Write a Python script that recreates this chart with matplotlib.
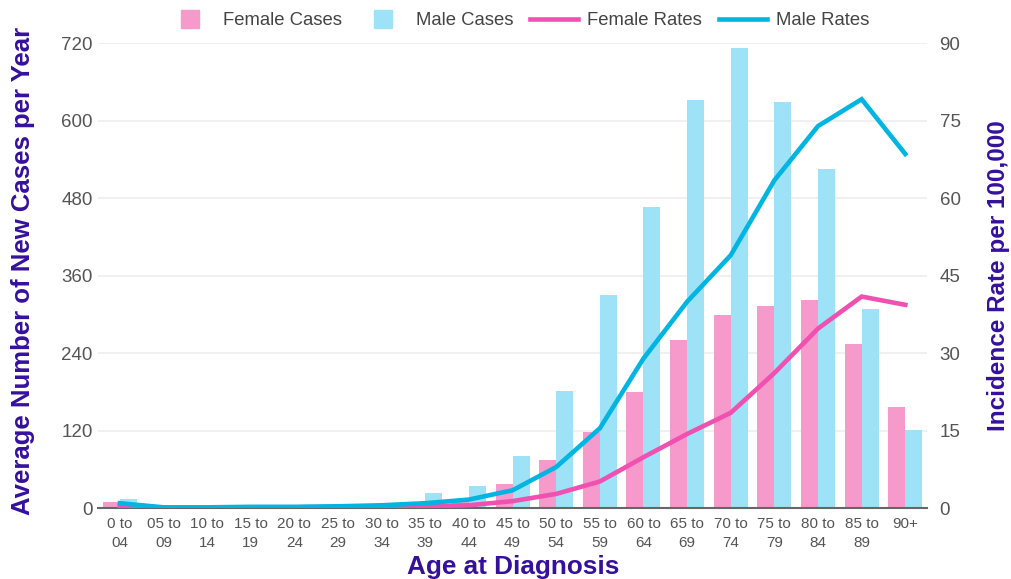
import numpy as np
import matplotlib.pyplot as plt
from matplotlib.lines import Line2D

# age groups (x axis)
ages = ["0 to\n04", "05 to\n09", "10 to\n14", "15 to\n19", "20 to\n24", "25 to\n29",
        "30 to\n34", "35 to\n39", "40 to\n44", "45 to\n49", "50 to\n54", "55 to\n59",
        "60 to\n64", "65 to\n69", "70 to\n74", "75 to\n79", "80 to\n84", "85 to\n89", "90+"]

# average new cases per year
female_cases = [10, 1, 1, 1, 2, 2, 4, 7, 15, 37, 75, 118, 180, 261, 299, 314, 322, 255, 157]
male_cases = [14, 2, 1, 2, 3, 4, 8, 24, 34, 81, 182, 330, 466, 633, 713, 630, 525, 309, 121]

# incidence rate per 100,000
female_rates = [0.4, 0.1, 0.1, 0.1, 0.2, 0.3, 0.3, 0.4, 0.6, 1.4, 2.8, 5.2, 9.9, 14.4, 18.5, 26.2, 34.8, 41.0, 39.4]
male_rates = [1.0, 0.2, 0.2, 0.3, 0.3, 0.4, 0.6, 1.0, 1.7, 3.5, 8.0, 15.5, 29.0, 40.0, 49.0, 63.5, 74.0, 79.2, 68.6]

left_ticks = [0, 120, 240, 360, 480, 600, 720]
right_ticks = [0, 15, 30, 45, 60, 75, 90]

pink_bar = "#f59acb"
blue_bar = "#9de2f6"
pink_line = "#f050b0"
blue_line = "#00b5e2"
title_col = "#35109b"
tick_col = "#555555"

plt.rcParams['font.family'] = ['Liberation Sans', 'DejaVu Sans']

W, H = 1011, 579
fig = plt.figure(figsize=(W / 100, H / 100), dpi=100)
ax = fig.add_axes([0.097, 0.122, 0.820, 0.803])
ax2 = ax.twinx()

x = np.arange(len(ages))
w = 0.39
ax.bar(x - w / 2, female_cases, w, color=pink_bar, zorder=2)
ax.bar(x + w / 2, male_cases, w, color=blue_bar, zorder=2)

ax2.plot(x, female_rates, color=pink_line, lw=3.3, solid_joinstyle='miter')
ax2.plot(x, male_rates, color=blue_line, lw=3.3, solid_joinstyle='miter')

ax.set_xlim(-0.5, len(ages) - 0.5)
ax.set_ylim(0, 720)
ax2.set_ylim(0, 90)
ax.set_yticks(left_ticks)
ax2.set_yticks(right_ticks)
ax.grid(axis='y', color='#eeeeee', lw=1.2, zorder=0)
ax.set_axisbelow(True)

for a in (ax, ax2):
    for s in a.spines.values():
        s.set_visible(False)
ax.spines['bottom'].set_visible(True)
ax.spines['bottom'].set_color('#666666')
ax.spines['bottom'].set_linewidth(1.5)

ax.set_xticks(x)
ax.set_xticklabels(ages, fontsize=11, color=tick_col, linespacing=1.5)
ax.tick_params(axis='x', length=0, pad=6)
ax.tick_params(axis='y', length=0, labelsize=13.5, labelcolor=tick_col, pad=4)
ax2.tick_params(axis='y', length=0, labelsize=13.5, labelcolor=tick_col, pad=9)

# axis titles placed where the reference has them
fig.text(23 / W, 1 - 271 / H, "Average Number of New Cases per Year", rotation=90,
         ha='center', va='center', fontsize=18.5, fontweight='bold', color=title_col)
fig.text(998 / W, 1 - 276 / H, "Incidence Rate per 100,000", rotation=90,
         ha='center', va='center', fontsize=17.5, fontweight='bold', color=title_col)
fig.text(513 / W, 1 - 567 / H, "Age at Diagnosis", ha='center', va='center',
         fontsize=18.8, fontweight='bold', color=title_col)

handles = [
    Line2D([], [], ls='none', marker='s', markersize=13, color=pink_bar),
    Line2D([], [], ls='none', marker='s', markersize=13, color=blue_bar),
    Line2D([], [], color=pink_line, lw=3.3),
    Line2D([], [], color=blue_line, lw=3.3),
]
labels = ["Female Cases", "Male Cases", "Female Rates", "Male Rates"]
fig.legend(handles, labels, loc='upper center', bbox_to_anchor=(0.512, 1.008), ncol=4,
           frameon=False, fontsize=13.3, handlelength=2.6, columnspacing=0.9,
           handletextpad=0.5, labelcolor='#444444')

fig.savefig("out.png", dpi=100)
